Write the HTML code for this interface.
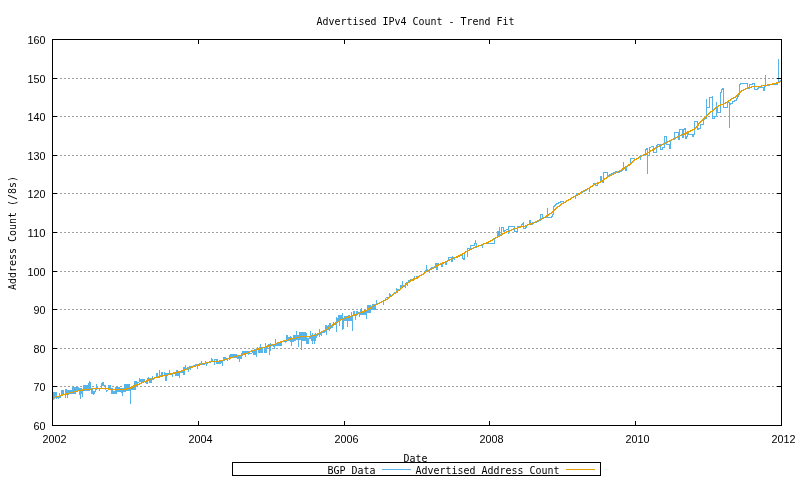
<!DOCTYPE html>
<html lang="en"><head><meta charset="utf-8"><title>Advertised IPv4 Count - Trend Fit</title>
<style>html,body{margin:0;padding:0;background:#fff;overflow:hidden}svg{display:block;will-change:transform}</style></head>
<body>
<svg width="800" height="480" viewBox="0 0 800 480">
<rect width="800" height="480" fill="#fff"/>
<g stroke="#a0a0a0" stroke-width="1" stroke-dasharray="2 2" shape-rendering="crispEdges">
<line x1="52" y1="386.5" x2="782" y2="386.5"/>
<line x1="52" y1="348.5" x2="782" y2="348.5"/>
<line x1="52" y1="309.5" x2="782" y2="309.5"/>
<line x1="52" y1="271.5" x2="782" y2="271.5"/>
<line x1="52" y1="232.5" x2="782" y2="232.5"/>
<line x1="52" y1="193.5" x2="782" y2="193.5"/>
<line x1="52" y1="155.5" x2="782" y2="155.5"/>
<line x1="52" y1="116.5" x2="782" y2="116.5"/>
<line x1="52" y1="78.5" x2="782" y2="78.5"/>
</g>
<path d="M52.5,392V400M53.5,392V400M54.5,392V399M55.5,392V397M56.5,392V399M57.5,396V398M58.5,396V399M59.5,393V398M60.5,395V398M61.5,390V396M62.5,390V395M63.5,390V395M64.5,394V395M65.5,389V398M66.5,389V394M67.5,390V398M68.5,390V395M69.5,390V394M70.5,390V394M71.5,390V394M72.5,387V394M73.5,387V394M74.5,387V394M75.5,387V394M76.5,387V392M77.5,387V392M78.5,387V390M79.5,388V395M80.5,388V399M81.5,388V394M82.5,390V397M83.5,385V391M84.5,385V391M85.5,385V391M86.5,385V391M87.5,385V391M88.5,383V391M89.5,381V391M90.5,382V389M91.5,388V394M92.5,388V394M93.5,391V395M94.5,391V394M95.5,388V392M96.5,384V390M97.5,386V388M98.5,388V389M99.5,388V391M100.5,388V389M101.5,383V388M102.5,382V386M103.5,382V386M104.5,385V386M105.5,385V390M106.5,390V392M107.5,390V391M108.5,385V390M109.5,385V389M110.5,385V389M111.5,388V394M112.5,388V394M113.5,391V394M114.5,391V394M115.5,387V394M116.5,387V394M117.5,387V392M118.5,387V392M119.5,387V392M120.5,388V392M121.5,388V393M122.5,388V396M123.5,388V392M124.5,384V392M125.5,384V392M126.5,384V391M127.5,384V391M128.5,384V391M129.5,384V391M130.5,387V404M131.5,386V390M132.5,386V390M133.5,385V390M134.5,381V390M135.5,381V390M136.5,381V387M137.5,382V386M138.5,382V383M139.5,378V382M140.5,379V382M141.5,379V383M142.5,379V383M143.5,379V382M144.5,379V382M145.5,381V383M146.5,380V384M147.5,378V384M148.5,377V380M149.5,378V383M150.5,378V383M151.5,380V383M152.5,376V380M153.5,378V380M154.5,378V379M155.5,377V378M156.5,373V378M157.5,373V377M158.5,376V377M159.5,370V378M160.5,375V377M161.5,372V376M162.5,372V376M163.5,375V376M164.5,372V375M165.5,373V381M166.5,373V381M167.5,373V374M168.5,373V375M169.5,370V375M170.5,373V374M171.5,373V375M172.5,373V377M173.5,372V374M174.5,372V373M175.5,372V376M176.5,370V376M177.5,370V376M178.5,371V376M179.5,371V378M180.5,372V373M181.5,372V373M182.5,371V373M183.5,367V375M184.5,367V375M185.5,365V369M186.5,368V369M187.5,367V368M188.5,367V372M189.5,366V367M190.5,366V370M191.5,366V367M192.5,366V367M193.5,365V366M194.5,365V366M195.5,364V366M196.5,364V365M197.5,364V369M198.5,365V366M199.5,363V366M200.5,363V364M201.5,361V364M202.5,363V365M203.5,364V365M204.5,364V365M205.5,361V364M206.5,363V366M207.5,362V364M208.5,362V363M209.5,362V363M210.5,362V363M211.5,358V362M212.5,359V362M213.5,361V362M214.5,359V365M215.5,359V360M216.5,359V364M217.5,359V364M218.5,361V364M219.5,361V364M220.5,361V364M221.5,361V363M222.5,360V366M223.5,357V361M224.5,357V361M225.5,357V360M226.5,358V359M227.5,358V361M228.5,358V359M229.5,355V360M230.5,354V358M231.5,354V357M232.5,354V357M233.5,354V358M234.5,354V358M235.5,354V358M236.5,354V358M237.5,356V359M238.5,356V359M239.5,356V362M240.5,355V359M241.5,353V359M242.5,351V356M243.5,351V355M244.5,351V355M245.5,351V357M246.5,351V353M247.5,351V353M248.5,351V355M249.5,351V354M250.5,353V354M251.5,353V354M252.5,351V353M253.5,350V355M254.5,349V355M255.5,349V355M256.5,349V357M257.5,347V349M258.5,348V353M259.5,347V353M260.5,344V353M261.5,347V353M262.5,348V353M263.5,347V348M264.5,347V353M265.5,343V353M266.5,347V353M267.5,345V349M268.5,344V345M269.5,344V355M270.5,343V351M271.5,345V346M272.5,344V346M273.5,344V347M274.5,344V349M275.5,339V346M276.5,344V346M277.5,343V346M278.5,342V346M279.5,342V346M280.5,341V346M281.5,341V346M282.5,341V342M283.5,341V342M284.5,341V342M285.5,341V343M286.5,335V342M287.5,335V341M288.5,337V341M289.5,337V341M290.5,336V342M291.5,337V346M292.5,339V342M293.5,335V342M294.5,335V341M295.5,335V341M296.5,331V340M297.5,335V340M298.5,335V347M299.5,332V340M300.5,332V340M301.5,332V350M302.5,332V341M303.5,332V341M304.5,332V341M305.5,332V341M306.5,333V344M307.5,338V344M308.5,338V344M309.5,336V339M310.5,331V339M311.5,335V341M312.5,333V344M313.5,335V341M314.5,334V344M315.5,333V341M316.5,334V338M317.5,335V336M318.5,334V335M319.5,329V337M320.5,332V335M321.5,332V336M322.5,331V333M323.5,331V333M324.5,331V333M325.5,325V332M326.5,325V335M327.5,326V330M328.5,325V330M329.5,323V331M330.5,323V329M331.5,326V328M332.5,326V328M333.5,322V326M334.5,324V325M335.5,322V325M336.5,317V332M337.5,318V322M338.5,315V322M339.5,315V326M340.5,315V320M341.5,315V320M342.5,313V330M343.5,318V329M344.5,316V321M345.5,316V321M346.5,316V321M347.5,316V327M348.5,315V321M349.5,315V321M350.5,317V321M351.5,312V321M352.5,316V331M353.5,311V316M354.5,311V316M355.5,315V320M356.5,311V316M357.5,311V315M358.5,312V314M359.5,312V317M360.5,309V315M361.5,308V315M362.5,311V315M363.5,311V315M364.5,310V315M365.5,310V315M366.5,310V319M367.5,305V313M368.5,305V313M369.5,305V313M370.5,305V313M371.5,306V310M372.5,304V310M373.5,304V310M374.5,304V310M375.5,304V310M376.5,300V304M377.5,303V304M378.5,303V304M379.5,302V303M380.5,302V303M381.5,301V302M382.5,301V302M383.5,301V305M384.5,300V301M385.5,298V301M386.5,297V298M387.5,297V298M388.5,297V298M389.5,293V298M390.5,294V297M391.5,295V296M392.5,294V296M393.5,294V295M394.5,292V294M395.5,292V293M396.5,288V292M397.5,289V293M398.5,289V290M399.5,289V290M400.5,285V290M401.5,285V289M402.5,281V288M403.5,285V287M404.5,285V287M405.5,283V288M406.5,282V283M407.5,282V286M408.5,280V282M409.5,280V281M410.5,279V281M411.5,279V280M412.5,279V280M413.5,278V281M414.5,276V279M415.5,278V279M416.5,276V278M417.5,276V279M418.5,276V278M419.5,276V277M420.5,275V276M421.5,274V276M422.5,274V275M423.5,273V274M424.5,271V273M425.5,270V271M426.5,265V271M427.5,269V271M428.5,270V271M429.5,269V273M430.5,268V270M431.5,267V268M432.5,267V268M433.5,267V268M434.5,266V267M435.5,263V267M436.5,263V270M437.5,263V270M438.5,263V266M439.5,264V265" fill="none" stroke="#56b4e9" stroke-width="1" shape-rendering="crispEdges"/>
<path d="M439.5,264.5H440.5V263.5H441.5V266.5H442.5V263.5H443.5V262.5H444.5H445.5V264.5H446.5V261.5H447.5V260.5H448.5V257.5H451.5V261.5H452.5V255.5V258.5H453.5V257.5H454.5V259.5V257.5H455.5H456.5H457.5V256.5H458.5H459.5V255.5H460.5H461.5V254.5H462.5V258.5H463.5V259.5H464.5V258.5V252.5H465.5V251.5H466.5H467.5V256.5V248.5H470.5V245.5H474.5V243.5H475.5V239.5V243.5H476.5V247.5V246.5H477.5H478.5V245.5H479.5H480.5H481.5V244.5H482.5V247.5V244.5H483.5V243.5H484.5H494.5V238.5H495.5V237.5H496.5H497.5V231.5H498.5V235.5H499.5V226.5V234.5H500.5V235.5H501.5V233.5V227.5H503.5V231.5H504.5V230.5L507.5,229.5H508.5V233.5V226.5H514.5V231.5H517.5V226.5H520.5L523.5,222.5V228.5H525.5L527.5,224.5H528.5H529.5V220.5H530.5V224.5H532.5V222.5H533.5H534.5H535.5H536.5V221.5H537.5H538.5V220.5H539.5H540.5V218.5V214.5H542.5V217.5H547.5V207.5V217.5H550.5H551.5V216.5H552.5V214.5H553.5V206.5H554.5V205.5L556.5,204.5V203.5H558.5V202.5H560.5V201.5H562.5H563.5V202.5H564.5H565.5V201.5H566.5V200.5H567.5H568.5V199.5H569.5H570.5V198.5H571.5V197.5H572.5H573.5V196.5H574.5H575.5V198.5V195.5H576.5V192.5V194.5H577.5H578.5H579.5V193.5H580.5V192.5H581.5H582.5V191.5H583.5H584.5V190.5H585.5H586.5V189.5H587.5V188.5H588.5H589.5V191.5V187.5H590.5V186.5H591.5H592.5V185.5H593.5V183.5H594.5H595.5V185.5H597.5V182.5H598.5H599.5H600.5V176.5H601.5V181.5L603.5,182.5V172.5H607.5V175.5H608.5H609.5V174.5H610.5H611.5V173.5H612.5H613.5V172.5H614.5H615.5V171.5H616.5H617.5V172.5H618.5H619.5V171.5H620.5H621.5V170.5H622.5V169.5H623.5V161.5V167.5H624.5H625.5V170.5H626.5V166.5L630.5,164.5V158.5H634.5V159.5H635.5H636.5V158.5H637.5H638.5V157.5H639.5V156.5H640.5V159.5V155.5H641.5H642.5H643.5H644.5V154.5H645.5V149.5L647.5,148.5V173.5V155.5H649.5V147.5L652.5,146.5H653.5V145.5V152.5H656.5V145.5H657.5V144.5H660.5V149.5H662.5V147.5H664.5V136.5H666.5V144.5H669.5V148.5H670.5V140.5L672.5,139.5H674.5V132.5H678.5V139.5H679.5V129.5H682.5V137.5H683.5V129.5L685.5,128.5V138.5H686.5V136.5H687.5V131.5H688.5V134.5H692.5V136.5H693.5V134.5H694.5V121.5H697.5V129.5H698.5V128.5H700.5V124.5H703.5V119.5H704.5V118.5H706.5V98.5V107.5H709.5V97.5H712.5V95.5V118.5H714.5V116.5H716.5V101.5V108.5H717.5V112.5H720.5V92.5H721.5V89.5L723.5,88.5V107.5H727.5V102.5H729.5V127.5V104.5H730.5V103.5H732.5V101.5H734.5V100.5H736.5V98.5H737.5V96.5H738.5V94.5H739.5V84.5H740.5V83.5H747.5V87.5H748.5V88.5H749.5V84.5H752.5V83.5H754.5V89.5H756.5L758.5,88.5V87.5H763.5V90.5H764.5V86.5H765.5V74.5V85.5H768.5L770.5,84.5H776.5H777.5V82.5H778.5V58.5V81.5L781.5,80.5" fill="none" stroke="#56b4e9" stroke-width="1" shape-rendering="crispEdges" stroke-linejoin="miter"/>
<path d="M52.5,397.5H53.5H54.5H55.5V396.5H56.5H57.5H58.5H59.5V395.5H60.5H61.5H62.5V394.5H63.5H64.5H65.5H66.5V393.5H67.5H68.5H69.5V392.5H70.5H71.5H72.5H73.5V391.5H74.5H75.5H76.5H77.5V390.5H78.5H79.5H80.5H81.5H82.5V389.5H83.5H84.5H85.5H86.5H87.5H88.5H89.5H90.5H91.5V388.5H92.5H93.5H94.5H95.5H96.5H97.5H98.5H99.5H100.5H101.5H102.5H103.5H104.5H105.5H106.5H107.5H108.5V389.5H109.5H110.5H111.5H112.5H113.5H114.5H115.5H116.5H117.5H118.5H119.5H120.5H121.5H122.5H123.5H124.5H125.5H126.5V388.5H127.5H128.5H129.5H130.5V387.5H131.5H132.5V386.5H133.5H134.5V385.5H135.5H136.5V384.5H137.5H138.5H139.5V383.5H140.5H141.5V382.5H142.5H143.5V381.5H144.5H145.5H146.5V380.5H147.5H148.5V379.5H149.5H150.5H151.5V378.5H152.5H153.5H154.5V377.5H155.5H156.5H157.5H158.5V376.5H159.5H160.5H161.5H162.5V375.5H163.5H164.5H165.5H166.5H167.5V374.5H168.5H169.5H170.5V373.5H171.5H172.5H173.5H174.5V372.5H175.5H176.5H177.5H178.5V371.5H179.5H180.5H181.5V370.5H182.5H183.5H184.5V369.5H185.5H186.5H187.5V368.5H188.5H189.5V367.5H190.5H191.5H192.5V366.5H193.5H194.5H195.5V365.5H196.5H197.5H198.5V364.5H199.5H200.5H201.5V363.5H202.5H203.5H204.5H205.5V362.5H206.5H207.5H208.5H209.5V361.5H210.5H211.5H212.5H213.5H214.5H215.5H216.5H217.5H218.5H219.5V360.5H220.5H221.5H222.5H223.5V359.5H224.5H225.5H226.5H227.5V358.5H228.5H229.5H230.5V357.5H231.5H232.5H233.5V356.5H234.5H235.5H236.5H237.5V355.5H238.5H239.5H240.5H241.5V354.5H242.5H243.5H244.5V353.5H245.5H246.5H247.5V352.5H248.5H249.5V351.5H250.5H251.5V350.5H252.5H253.5H254.5H255.5V349.5H256.5H257.5H258.5V348.5H259.5H260.5H261.5V347.5H262.5H263.5H264.5H265.5V346.5H266.5H267.5H268.5V345.5H269.5H270.5H271.5V344.5H272.5H273.5H274.5H275.5V343.5H276.5H277.5V342.5H278.5H279.5H280.5V341.5H281.5H282.5H283.5V340.5H284.5H285.5H286.5H287.5V339.5H288.5H289.5H290.5V338.5H291.5H292.5H293.5H294.5H295.5V337.5H296.5H297.5H298.5H299.5V336.5H300.5H301.5H302.5H303.5H304.5H305.5H306.5H307.5H308.5H309.5H310.5H311.5V335.5H312.5H313.5H314.5H315.5V334.5H316.5H317.5V333.5H318.5H319.5V332.5H320.5H321.5V331.5H322.5H323.5V330.5H324.5H325.5V329.5H326.5H327.5V328.5H328.5V327.5H329.5V326.5H330.5H331.5V325.5H332.5V324.5H333.5H334.5V323.5H335.5V322.5H336.5H337.5V321.5H338.5H339.5V320.5H340.5V319.5H341.5H342.5H343.5V318.5H344.5H345.5V317.5H346.5H347.5H348.5V316.5H349.5H350.5H351.5V315.5H352.5H353.5H354.5V314.5H355.5H356.5H357.5V313.5H358.5H359.5V312.5H360.5H361.5H362.5V311.5H363.5H364.5V310.5H365.5H366.5H367.5V309.5H368.5V308.5H369.5H370.5V307.5H371.5V306.5H372.5H373.5V305.5H374.5H375.5V304.5H376.5H377.5V303.5H378.5H379.5V302.5H380.5H381.5V301.5H382.5H383.5V300.5H384.5H385.5V299.5H386.5H387.5V298.5H388.5V297.5H389.5V296.5H390.5H391.5V295.5H392.5V294.5H393.5V293.5H394.5H395.5V292.5H396.5V291.5H397.5V290.5H398.5H399.5V289.5H400.5V288.5H401.5V287.5H402.5V286.5H403.5V285.5H404.5H405.5V284.5H406.5V283.5H407.5V282.5H408.5H409.5V281.5H410.5V280.5H411.5H412.5V279.5H413.5H414.5V278.5H415.5H416.5V277.5H417.5H418.5V276.5H419.5V275.5H420.5H421.5V274.5H422.5H423.5V273.5H424.5V272.5H425.5V271.5H426.5H427.5V270.5H428.5H429.5V269.5H430.5H431.5V268.5H432.5H433.5V267.5H434.5H435.5V266.5H436.5V265.5H437.5H438.5V264.5H439.5H440.5V263.5H441.5H442.5V262.5H443.5H444.5H445.5V261.5H446.5H447.5V260.5H448.5H449.5V259.5H450.5H451.5V258.5H452.5H453.5V257.5H454.5H455.5H456.5V256.5H457.5H458.5V255.5H459.5H460.5V254.5H461.5H462.5V253.5H463.5H464.5V252.5H465.5V251.5H466.5H467.5V250.5H468.5H469.5V249.5H470.5H471.5V248.5H472.5H473.5V247.5H474.5H475.5V246.5H476.5H477.5H478.5V245.5H479.5H480.5H481.5V244.5H482.5H483.5V243.5H484.5H485.5H486.5V242.5H487.5H488.5V241.5H489.5H490.5V240.5H491.5H492.5V239.5H493.5V238.5H494.5H495.5V237.5H496.5H497.5V236.5H498.5H499.5V235.5H500.5H501.5V234.5H502.5V233.5H503.5H504.5V232.5H505.5H506.5V231.5H507.5H508.5H509.5V230.5H510.5H511.5V229.5H512.5H513.5V228.5H514.5H515.5H516.5H517.5V227.5H518.5H519.5H520.5V226.5H521.5H522.5H523.5H524.5H525.5V225.5H526.5H527.5V224.5H528.5H529.5H530.5V223.5H531.5H532.5H533.5V222.5H534.5H535.5V221.5H536.5H537.5V220.5H538.5H539.5V219.5H540.5H541.5V218.5H542.5H543.5V217.5H544.5H545.5V216.5H546.5V215.5H547.5H548.5V214.5H549.5V213.5H550.5H551.5V212.5H552.5V211.5H553.5V210.5H554.5V209.5H555.5V208.5H556.5V207.5H557.5V206.5H558.5H559.5V205.5H560.5V204.5H561.5V203.5H562.5H563.5V202.5H564.5H565.5V201.5H566.5V200.5H567.5H568.5V199.5H569.5H570.5V198.5H571.5V197.5H572.5H573.5V196.5H574.5H575.5V195.5H576.5H577.5V194.5H578.5V193.5H579.5H580.5V192.5H581.5V191.5H582.5H583.5V190.5H584.5H585.5V189.5H586.5H587.5V188.5H588.5H589.5V187.5H590.5V186.5H591.5H592.5V185.5H593.5V184.5H594.5H595.5V183.5H596.5H597.5H598.5V182.5H599.5H600.5V181.5H601.5H602.5V180.5H603.5V179.5H604.5V178.5H605.5H606.5V177.5H607.5V176.5H608.5H609.5V175.5H610.5H611.5V174.5H612.5H613.5V173.5H614.5H615.5V172.5H616.5H617.5V171.5H618.5H619.5V170.5H620.5H621.5V169.5H622.5V168.5H623.5H624.5V167.5H625.5V166.5H626.5H627.5V165.5H628.5V164.5H629.5H630.5V163.5H631.5V162.5H632.5V161.5H633.5V160.5H634.5V159.5H635.5H636.5V158.5H637.5H638.5V157.5H639.5V156.5H640.5H641.5V155.5H642.5H643.5V154.5H644.5H645.5H646.5V153.5H647.5V152.5H648.5H649.5V151.5H650.5V150.5H651.5H652.5V149.5H653.5H654.5V148.5H655.5V147.5H656.5H657.5V146.5H658.5H659.5V145.5H660.5H661.5V144.5H662.5H663.5V143.5H664.5H665.5V142.5H666.5H667.5V141.5H668.5H669.5V140.5H670.5H671.5V139.5H672.5H673.5V138.5H674.5H675.5V137.5H676.5H677.5V136.5H678.5H679.5V135.5H680.5H681.5V134.5H682.5H683.5H684.5V133.5H685.5H686.5V132.5H687.5H688.5V131.5H689.5H690.5V130.5H691.5H692.5V129.5H693.5H694.5V128.5H695.5V127.5H696.5V126.5H697.5V125.5H698.5V123.5H699.5V122.5H700.5V121.5H701.5V120.5H702.5V119.5H703.5V118.5H704.5V117.5H705.5V116.5H706.5V115.5H707.5V114.5H708.5V113.5H709.5V112.5H710.5V111.5H711.5H712.5V110.5H713.5V109.5H714.5V108.5H715.5V107.5H716.5H717.5V106.5H718.5V105.5H719.5H720.5V104.5H721.5H722.5H723.5V103.5H724.5H725.5V102.5H726.5H727.5V101.5H728.5V100.5H729.5H730.5V99.5H731.5V98.5H732.5H733.5V97.5H734.5H735.5V96.5H736.5V95.5H737.5V94.5H738.5V93.5H739.5V92.5H740.5V91.5H741.5V90.5H742.5H743.5V89.5H744.5H745.5V88.5H746.5H747.5V87.5H748.5H749.5H750.5H751.5V86.5H752.5H753.5H754.5H755.5H756.5H757.5H758.5H759.5H760.5H761.5V85.5H762.5H763.5H764.5H765.5H766.5H767.5V84.5H768.5H769.5H770.5H771.5H772.5V83.5H773.5H774.5H775.5H776.5V82.5H777.5H778.5H779.5V81.5H780.5H781.5" fill="none" stroke="#e69f00" stroke-width="1" shape-rendering="crispEdges"/>
<g stroke="#000" stroke-width="1" fill="none" shape-rendering="crispEdges">
<rect x="52.5" y="39.5" width="729" height="386"/>
<line x1="52" y1="425.5" x2="57" y2="425.5"/><line x1="777" y1="425.5" x2="782" y2="425.5"/>
<line x1="52" y1="386.5" x2="57" y2="386.5"/><line x1="777" y1="386.5" x2="782" y2="386.5"/>
<line x1="52" y1="348.5" x2="57" y2="348.5"/><line x1="777" y1="348.5" x2="782" y2="348.5"/>
<line x1="52" y1="309.5" x2="57" y2="309.5"/><line x1="777" y1="309.5" x2="782" y2="309.5"/>
<line x1="52" y1="271.5" x2="57" y2="271.5"/><line x1="777" y1="271.5" x2="782" y2="271.5"/>
<line x1="52" y1="232.5" x2="57" y2="232.5"/><line x1="777" y1="232.5" x2="782" y2="232.5"/>
<line x1="52" y1="193.5" x2="57" y2="193.5"/><line x1="777" y1="193.5" x2="782" y2="193.5"/>
<line x1="52" y1="155.5" x2="57" y2="155.5"/><line x1="777" y1="155.5" x2="782" y2="155.5"/>
<line x1="52" y1="116.5" x2="57" y2="116.5"/><line x1="777" y1="116.5" x2="782" y2="116.5"/>
<line x1="52" y1="78.5" x2="57" y2="78.5"/><line x1="777" y1="78.5" x2="782" y2="78.5"/>
<line x1="52" y1="39.5" x2="57" y2="39.5"/><line x1="777" y1="39.5" x2="782" y2="39.5"/>
<line x1="52.5" y1="39" x2="52.5" y2="44"/><line x1="52.5" y1="421" x2="52.5" y2="426"/>
<line x1="198.5" y1="39" x2="198.5" y2="44"/><line x1="198.5" y1="421" x2="198.5" y2="426"/>
<line x1="344.5" y1="39" x2="344.5" y2="44"/><line x1="344.5" y1="421" x2="344.5" y2="426"/>
<line x1="489.5" y1="39" x2="489.5" y2="44"/><line x1="489.5" y1="421" x2="489.5" y2="426"/>
<line x1="635.5" y1="39" x2="635.5" y2="44"/><line x1="635.5" y1="421" x2="635.5" y2="426"/>
<line x1="781.5" y1="39" x2="781.5" y2="44"/><line x1="781.5" y1="421" x2="781.5" y2="426"/>
<rect x="232.5" y="462.5" width="368" height="13"/>
</g>
<g shape-rendering="crispEdges" stroke-width="1"><line x1="382" y1="469.5" x2="411" y2="469.5" stroke="#56b4e9"/><line x1="566" y1="469.5" x2="595" y2="469.5" stroke="#e69f00"/></g>
<g font-family="'DejaVu Sans Mono','Liberation Mono',monospace" font-size="11" fill="#000">
<text x="316.6" y="25" textLength="198" lengthAdjust="spacingAndGlyphs">Advertised IPv4 Count - Trend Fit</text>
<text x="33.6" y="430" textLength="12" lengthAdjust="spacingAndGlyphs" font-family="'Liberation Sans','DejaVu Sans',sans-serif">60</text>
<text x="33.6" y="391" textLength="12" lengthAdjust="spacingAndGlyphs" font-family="'Liberation Sans','DejaVu Sans',sans-serif">70</text>
<text x="33.6" y="353" textLength="12" lengthAdjust="spacingAndGlyphs" font-family="'Liberation Sans','DejaVu Sans',sans-serif">80</text>
<text x="33.6" y="314" textLength="12" lengthAdjust="spacingAndGlyphs" font-family="'Liberation Sans','DejaVu Sans',sans-serif">90</text>
<text x="27.6" y="276" textLength="18" lengthAdjust="spacingAndGlyphs" font-family="'Liberation Sans','DejaVu Sans',sans-serif">100</text>
<text x="27.6" y="237" textLength="18" lengthAdjust="spacingAndGlyphs" font-family="'Liberation Sans','DejaVu Sans',sans-serif">110</text>
<text x="27.6" y="198" textLength="18" lengthAdjust="spacingAndGlyphs" font-family="'Liberation Sans','DejaVu Sans',sans-serif">120</text>
<text x="27.6" y="160" textLength="18" lengthAdjust="spacingAndGlyphs" font-family="'Liberation Sans','DejaVu Sans',sans-serif">130</text>
<text x="27.6" y="121" textLength="18" lengthAdjust="spacingAndGlyphs" font-family="'Liberation Sans','DejaVu Sans',sans-serif">140</text>
<text x="27.6" y="83" textLength="18" lengthAdjust="spacingAndGlyphs" font-family="'Liberation Sans','DejaVu Sans',sans-serif">150</text>
<text x="27.6" y="44" textLength="18" lengthAdjust="spacingAndGlyphs" font-family="'Liberation Sans','DejaVu Sans',sans-serif">160</text>
<text x="42.6" y="443" textLength="24" lengthAdjust="spacingAndGlyphs" font-family="'Liberation Sans','DejaVu Sans',sans-serif">2002</text>
<text x="188.6" y="443" textLength="24" lengthAdjust="spacingAndGlyphs" font-family="'Liberation Sans','DejaVu Sans',sans-serif">2004</text>
<text x="334.6" y="443" textLength="24" lengthAdjust="spacingAndGlyphs" font-family="'Liberation Sans','DejaVu Sans',sans-serif">2006</text>
<text x="479.6" y="443" textLength="24" lengthAdjust="spacingAndGlyphs" font-family="'Liberation Sans','DejaVu Sans',sans-serif">2008</text>
<text x="625.6" y="443" textLength="24" lengthAdjust="spacingAndGlyphs" font-family="'Liberation Sans','DejaVu Sans',sans-serif">2010</text>
<text x="771.6" y="443" textLength="24" lengthAdjust="spacingAndGlyphs" font-family="'Liberation Sans','DejaVu Sans',sans-serif">2012</text>
<text x="403.6" y="462" textLength="24" lengthAdjust="spacingAndGlyphs">Date</text>
<text x="327.6" y="474" textLength="48" lengthAdjust="spacingAndGlyphs">BGP Data</text>
<text x="415.6" y="474" textLength="144" lengthAdjust="spacingAndGlyphs">Advertised Address Count</text>
<text transform="translate(16,290) rotate(-90)" x="0" y="0" textLength="114" lengthAdjust="spacingAndGlyphs">Address Count (/8s)</text>
</g>
</svg>
</body></html>
